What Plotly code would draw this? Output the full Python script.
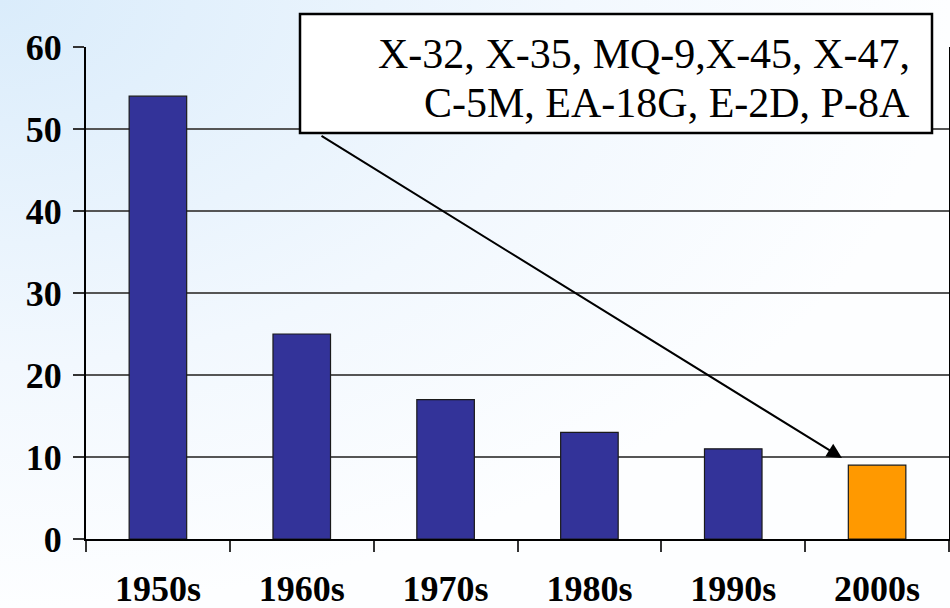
import base64
import plotly.graph_objects as go

# ---- data ----
decades = ["1950s", "1960s", "1970s", "1980s", "1990s", "2000s"]
new_programs = [54, 25, 17, 13, 11, 9]
highlight_decade = "2000s"
aircraft_lines = ["X-32, X-35, MQ-9,X-45, X-47,", "C-5M, EA-18G, E-2D, P-8A"]
y_ticks = [0, 10, 20, 30, 40, 50, 60]

BLUE = "#333399"
ORANGE = "#FF9900"
bar_colors = [ORANGE if d == highlight_decade else BLUE for d in decades]

W, H = 950, 608
L, R, T, B = 86, 1, 47, 69
pw, ph = W - L - R, H - T - B

def px_x(px):
    return (px - L) / pw

def px_y(py):
    return (H - B - py) / ph

fig = go.Figure()
fig.add_trace(go.Bar(
    x=decades, y=new_programs,
    marker=dict(color=bar_colors, line=dict(color="#1a1a1a", width=1.2)),
    width=0.4,
))

font_fam = "Liberation Serif"

# background gradient
svg = ('<svg xmlns="http://www.w3.org/2000/svg" width="950" height="608" '
       'viewBox="0 0 950 608" preserveAspectRatio="none">'
       '<defs><radialGradient id="g" cx="0" cy="0" r="1" gradientUnits="objectBoundingBox">'
       '<stop offset="0" stop-color="#DAECFB"/>'
       '<stop offset="0.6" stop-color="#F2F8FE"/>'
       '<stop offset="1" stop-color="#FDFEFF"/>'
       '</radialGradient></defs>'
       '<rect x="0" y="0" width="950" height="608" fill="url(#g)"/></svg>')
src = "data:image/svg+xml;base64," + base64.b64encode(svg.encode()).decode()

fig.add_layout_image(dict(
    source=src, xref="paper", yref="paper",
    x=px_x(0), y=px_y(0), sizex=W / pw, sizey=H / ph,
    xanchor="left", yanchor="top", sizing="stretch", layer="below",
))

# annotation box
fig.add_shape(type="rect", xref="paper", yref="paper",
              x0=px_x(300), x1=px_x(932), y0=px_y(133), y1=px_y(14),
              line=dict(color="black", width=2.5), fillcolor="white", layer="above")

for i, line in enumerate(aircraft_lines):
    fig.add_annotation(text=line, xref="paper", yref="paper",
                       x=px_x(912), y=px_y(54 + i * 49), xanchor="right", yanchor="middle",
                       showarrow=False, font=dict(family=font_fam, size=42, color="black"))

# arrow
fig.add_annotation(text="", xref="paper", yref="paper", axref="pixel", ayref="pixel",
                   x=px_x(842), y=px_y(458), ax=320 - 842, ay=135 - 458,
                   showarrow=True, arrowhead=2, arrowsize=1.5, arrowwidth=2,
                   arrowcolor="black", standoff=0, startstandoff=0)

fig.update_layout(
    width=W, height=H,
    margin=dict(l=L, r=R, t=T, b=B, pad=0, autoexpand=False),
    paper_bgcolor="rgba(0,0,0,0)", plot_bgcolor="rgba(0,0,0,0)",
    showlegend=False,
    bargap=0.6,
    font=dict(family=font_fam, color="black"),
)
fig.update_xaxes(
    type="category", automargin=False, showline=True, linecolor="black", linewidth=2,
    ticks="outside", tickson="boundaries", ticklen=11, tickcolor="#333", tickwidth=2,
    tickvals=decades, ticktext=["<b>%s</b>" % d for d in decades],
    tickfont=dict(family=font_fam, size=36, color="black"),
    ticklabelstandoff=17, showgrid=False,
)
fig.update_yaxes(
    range=[0, 60], automargin=False, showline=True, linecolor="black", linewidth=2,
    mirror=True,
    tickvals=y_ticks, ticktext=["<b>%d</b>" % v for v in y_ticks],
    ticks="outside", ticklen=11, tickcolor="#333", tickwidth=1.5,
    tickfont=dict(family=font_fam, size=36, color="black"),
    ticklabelstandoff=4,
    showgrid=True, gridcolor="#555555", gridwidth=1.5, zeroline=False,
)

fig.write_html("out.html", config={"displayModeBar": False},
               post_script="document.body.style.margin='0';document.body.style.overflow='hidden';")
